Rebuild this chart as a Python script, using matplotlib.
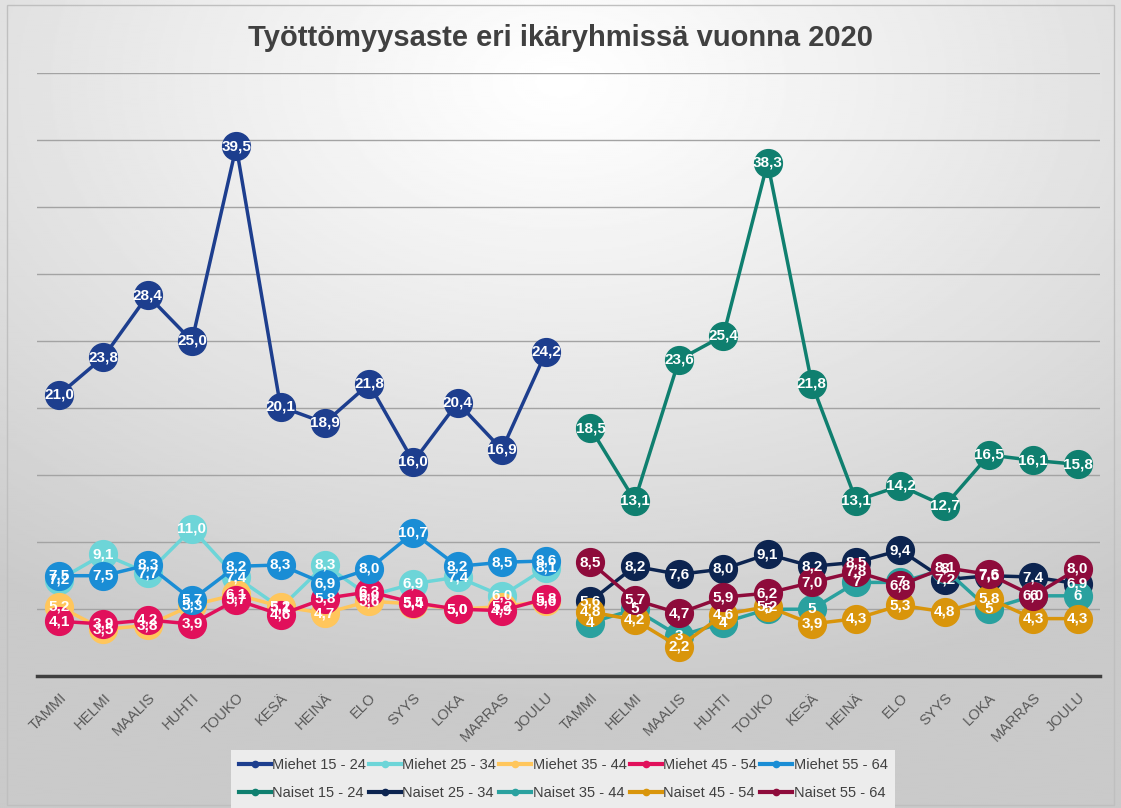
import numpy as np
import matplotlib.pyplot as plt
from matplotlib.lines import Line2D
from matplotlib.patches import Rectangle

plt.rcParams['font.family'] = ['Liberation Sans', 'DejaVu Sans']

# Kuukaudet (miehet ensin, sitten naiset)
months = ['TAMMI', 'HELMI', 'MAALIS', 'HUHTI', 'TOUKO', 'KESÄ',
          'HEINÄ', 'ELO', 'SYYS', 'LOKA', 'MARRAS', 'JOULU']

miehet_15_24 = [21.0, 23.8, 28.4, 25.0, 39.5, 20.1, 18.9, 21.8, 16.0, 20.4, 16.9, 24.2]
miehet_25_34 = [7.2, 9.1, 7.7, 11.0, 7.4, 5.1, 8.3, 6.0, 6.9, 7.4, 6.0, 8.1]
miehet_35_44 = [5.2, 3.5, 3.8, 5.3, 6.1, 5.2, 4.7, 5.6, 5.4, 5.0, 5.2, 5.6]
miehet_45_54 = [4.1, 3.9, 4.2, 3.9, 5.7, 4.6, 5.8, 6.3, 5.5, 5.0, 4.9, 5.8]
miehet_55_64 = [7.5, 7.5, 8.3, 5.7, 8.2, 8.3, 6.9, 8.0, 10.7, 8.2, 8.5, 8.6]

naiset_15_24 = [18.5, 13.1, 23.6, 25.4, 38.3, 21.8, 13.1, 14.2, 12.7, 16.5, 16.1, 15.8]
naiset_25_34 = [5.6, 8.2, 7.6, 8.0, 9.1, 8.2, 8.5, 9.4, 7.2, 7.5, 7.4, 6.9]
naiset_35_44 = [4, 5, 3, 4, 5, 5, 7, 7, 8, 5, 6, 6]
naiset_45_54 = [4.8, 4.2, 2.2, 4.6, 5.2, 3.9, 4.3, 5.3, 4.8, 5.8, 4.3, 4.3]
naiset_55_64 = [8.5, 5.7, 4.7, 5.9, 6.2, 7.0, 7.8, 6.8, 8.1, 7.6, 6.0, 8.0]

men = [('Miehet 15 - 24', miehet_15_24, '#1d3e8e'),
       ('Miehet 25 - 34', miehet_25_34, '#6dd5d8'),
       ('Miehet 35 - 44', miehet_35_44, '#ffc65c'),
       ('Miehet 45 - 54', miehet_45_54, '#e1105b'),
       ('Miehet 55 - 64', miehet_55_64, '#1a8dd5')]
women = [('Naiset 15 - 24', naiset_15_24, '#0f7f6f'),
         ('Naiset 25 - 34', naiset_25_34, '#0c2450'),
         ('Naiset 35 - 44', naiset_35_44, '#2aa19f'),
         ('Naiset 45 - 54', naiset_45_54, '#d9950b'),
         ('Naiset 55 - 64', naiset_55_64, '#8e0b3b')]


def fmt(v):
    if isinstance(v, int):
        return str(v)
    return f'{v:.1f}'.replace('.', ',')


fig = plt.figure(figsize=(11.21, 8.08), dpi=100)

# taustan liukuväri
bg = fig.add_axes([0, 0, 1, 1], zorder=-10)
yy, xx = np.mgrid[0:1:400j, 0:1:560j]
r = np.sqrt((xx - 0.5) ** 2 + ((yy - 0.1) * 1.1) ** 2)
shade = 1.0 - 0.21 * np.clip(r / 0.85, 0, 1) ** 1.1
bg.imshow(shade, cmap='gray', vmin=0, vmax=1, extent=[0, 1, 0, 1],
          origin='upper', aspect='auto')
bg.set_xlim(0, 1)
bg.set_ylim(0, 1)
bg.axis('off')
bg.add_patch(Rectangle((0.006, 0.004), 0.988, 0.99, fill=False,
                       edgecolor='#bfbfbf', lw=1.0))

ax = fig.add_axes([0.033, 0.163, 0.948, 0.747])
ax.patch.set_alpha(0)

z = 3
for start, group in ((0, men), (12, women)):
    xs = np.arange(start, start + 12)
    for name, vals, col in group:
        ax.plot(xs, vals, color=col, lw=2.5, marker='o', ms=20,
                zorder=z, solid_capstyle='round')
        z += 1
        for x, v in zip(xs, vals):
            ax.text(x, v, fmt(v), ha='center', va='center', color='white',
                    fontsize=11, fontweight='bold', zorder=100)

ax.set_xlim(-0.5, 23.5)
ax.set_ylim(0, 45)
ax.set_yticks(np.arange(0, 46, 5))
ax.set_yticklabels([])
ax.grid(axis='y', color='#a3a3a3', lw=1.0)
ax.set_axisbelow(True)
ax.set_xticks(range(24))
ax.set_xticklabels(months * 2, rotation=45, ha='right', rotation_mode='anchor',
                   color='#595959', fontsize=10.5)
ax.tick_params(length=0, pad=10)
for s in ['left', 'right', 'top']:
    ax.spines[s].set_visible(False)
ax.spines['bottom'].set_color('#3f3f3f')
ax.spines['bottom'].set_linewidth(2.5)

fig.text(0.5, 1 - 38 / 808, 'Työttömyysaste eri ikäryhmissä vuonna 2020',
         ha='center', va='center', fontsize=21, fontweight='bold', color='#404040')

handles, labels = [], []
for m, w in zip(men, women):
    for name, _, col in (m, w):
        handles.append(Line2D([], [], color=col, lw=3, marker='o', ms=4.5))
        labels.append(name)
leg = fig.legend(handles, labels, ncol=5, loc='center',
                 bbox_to_anchor=(563 / 1121, 1 - 779 / 808), fontsize=10.5,
                 frameon=True, facecolor='#ececec', edgecolor='none',
                 handlelength=2.2, handletextpad=0.1, columnspacing=0.2,
                 labelspacing=1.0, borderpad=0.5, fancybox=False)
leg.get_frame().set_alpha(1)
for t in leg.get_texts():
    t.set_color('#404040')

fig.savefig('out.png', dpi=100)
